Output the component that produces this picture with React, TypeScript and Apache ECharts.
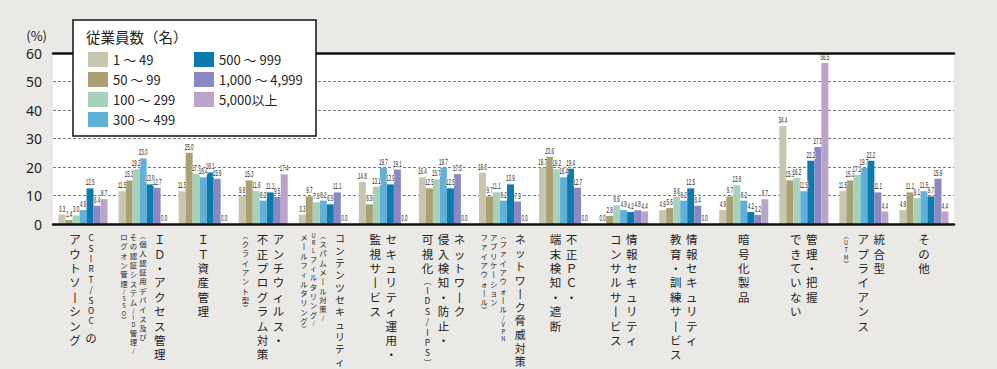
import React, { useEffect, useRef } from 'react';
import * as echarts from 'echarts';

const categories = [
  'CSIRT/SOC のアウトソーシング',
  'ID・アクセス管理',
  'IT資産管理',
  'アンチウィルス・不正プログラム対策',
  'コンテンツセキュリティ',
  'セキュリティ運用・監視サービス',
  'ネットワーク侵入検知・防止・可視化(IDS/IPS)',
  'ネットワーク脅威対策',
  '不正PC・端末検知・遮断',
  '情報セキュリティコンサルサービス',
  '情報セキュリティ教育・訓練サービス',
  '暗号化製品',
  '管理・把握できていない',
  '統合型アプライアンス(UTM)',
  'その他',
];

// label columns, right to left (main size), then sub (small size) columns
const labelMain: string[][] = [
  ['CSIRT/SOC の', 'アウトソーシング'],
  ['ＩＤ・アクセス管理'],
  ['ＩＴ資産管理'],
  ['アンチウィルス・', '不正プログラム対策'],
  ['コンテンツセキュリティ'],
  ['セキュリティ運用・', '監視サービス'],
  ['ネットワーク', '侵入検知・防止・', '可視化(IDS/IPS)'],
  ['ネットワーク脅威対策'],
  ['不正ＰＣ・', '端末検知・遮断'],
  ['情報セキュリティ', 'コンサルサービス'],
  ['情報セキュリティ', '教育・訓練サービス'],
  ['暗号化製品'],
  ['管理・把握', 'できていない'],
  ['統合型', 'アプライアンス'],
  ['その他'],
];
const labelSub: string[][] = [
  [],
  ['(個人認証用デバイス及び', 'その認証システム/ID管理/', 'ログオン管理/SSO)'],
  [],
  ['(クライアント型)'],
  ['(スパムメール対策/', 'URLフィルタリング/', 'メールフィルタリング)'],
  [],
  [],
  ['(ファイアウォール/VPN', 'アプリケーション', 'ファイアウォール)'],
  [],
  [],
  [],
  [],
  [],
  ['(UTM)'],
  [],
];

const seriesNames = ['1 ～ 49', '50 ～ 99', '100 ～ 299', '300 ～ 499', '500 ～ 999', '1,000 ～ 4,999', '5,000以上'];
const s1 = [3.3, 11.5, 11.5, 9.8, 3.3, 14.8, 16.4, 18.0, 19.7, 0.0, 4.9, 4.9, 34.4, 11.5, 4.9];
const s2 = [1.4, 15.3, 25.0, 15.3, 9.7, 6.9, 12.5, 9.7, 23.6, 2.8, 5.6, 9.7, 15.3, 15.3, 11.1];
const s3 = [3.0, 19.2, 17.7, 11.6, 7.6, 13.1, 15.7, 11.1, 19.2, 6.6, 9.6, 13.6, 16.2, 17.2, 9.1];
const s4 = [4.9, 23.0, 16.4, 8.2, 8.2, 19.7, 19.7, 8.2, 16.4, 4.9, 8.2, 8.2, 11.5, 19.7, 11.5];
const s5 = [12.5, 13.9, 18.1, 11.1, 6.9, 13.9, 12.5, 13.9, 19.4, 4.2, 12.5, 4.2, 22.2, 22.2, 9.7];
const s6 = [6.4, 12.7, 15.9, 9.5, 11.1, 19.1, 17.5, 7.9, 12.7, 4.8, 6.4, 3.2, 27.0, 11.1, 15.9];
const s7 = [8.7, 0.0, 0.0, 17.4, 0.0, 0.0, 0.0, 0.0, 0.0, 4.4, 0.0, 8.7, 56.5, 4.4, 4.4];
const seriesData = [s1, s2, s3, s4, s5, s6, s7];

const colors = ['#c8c6b1', '#a9a074', '#a8d1b9', '#60b0d8', '#0c7aad', '#8a88c0', '#bca3cb'];

const JP = "'Noto Sans CJK JP', 'Noto Sans', sans-serif";
const BAR_W = 7;

type Kind = 'full' | 'half' | 'paren' | 'space';
type Metric = { w: number; pitch: Record<Kind, number>; font: Record<Kind, number> };
const MAIN: Metric = {
  w: 13,
  pitch: { full: 14.4, half: 10.4, paren: 9.6, space: 5 },
  font: { full: 11.5, half: 8.3, paren: 7.6, space: 4 },
};
const SUB: Metric = {
  w: 8,
  pitch: { full: 9.3, half: 7.2, paren: 7, space: 3 },
  font: { full: 7.4, half: 5.7, paren: 5.5, space: 2.4 },
};
const MAXLEN = 136;
const RATIO = 1.25;

function toVertical(t: string): string[] {
  return Array.from(t).map((c) => (c === '(' ? '︵' : c === ')' ? '︶' : c === 'ー' ? '丨' : c));
}
function kind(c: string): Kind {
  if (c === ' ') return 'space';
  if (c === '︵' || c === '︶') return 'paren';
  if (c.charCodeAt(0) < 128) return 'half';
  return 'full';
}

const columns = categories.map((_, i) => [
  ...labelMain[i].map((t) => ({ t, sub: false })),
  ...labelSub[i].map((t) => ({ t, sub: true })),
]);

const colOffsets = columns.map((cols) => {
  const pos = [0];
  for (let j = 1; j < cols.length; j++) {
    const a = cols[j - 1].sub;
    const b = cols[j].sub;
    const pitch = !a && !b ? 16 : a && b ? 9.5 : 17;
    pos.push(pos[j - 1] - pitch);
  }
  const last = cols.length - 1;
  const right = pos[0] + (cols[0].sub ? SUB.w : MAIN.w) / 2;
  const left = pos[last] - (cols[last].sub ? SUB.w : MAIN.w) / 2;
  const c = (right + left) / 2;
  return pos.map((p) => p - c);
});

function richFor(k: number) {
  const rich: Record<string, any> = {};
  columns.forEach((cols, i) => {
    const col = cols[k];
    if (!col) return;
    const m = col.sub ? SUB : MAIN;
    const chars = toVertical(col.t);
    const total = chars.reduce((s, c) => s + m.pitch[kind(c)], 0);
    const sc = Math.min(1, MAXLEN / total);
    const dx = colOffsets[i][k];
    const pad = [0, dx < 0 ? -2 * dx : 0, 0, dx > 0 ? 2 * dx : 0];
    (['full', 'half', 'paren', 'space'] as const).forEach((kd) => {
      const lh = m.pitch[kd] * sc;
      rich[`${kd}${i}`] = {
        fontSize: Math.min(m.font[kd], lh / RATIO),
        lineHeight: lh,
        padding: pad,
        fontFamily: JP,
        color: '#222',
      };
    });
  });
  return rich;
}

function formatterFor(k: number) {
  return (_value: string, index: number) => {
    const col = columns[index] && columns[index][k];
    if (!col) return '';
    return toVertical(col.t)
      .map((c) => `{${kind(c)}${index}|${c}}`)
      .join('\n');
  };
}

const labelData = seriesData.flatMap((d, si) => d.map((v, ci) => [ci, v, si]));

export default function App() {
  const ref = useRef<HTMLDivElement>(null);
  useEffect(() => {
    const chart = echarts.init(ref.current!, null, { renderer: 'svg' });

    const xAxes: any[] = [0, 1, 2, 3].map((k) => ({
      type: 'category',
      data: categories,
      position: 'bottom',
      gridIndex: 0,
      z: 5,
      axisLine: { show: k === 0, onZero: false, lineStyle: { color: '#111', width: 2.5 } },
      axisTick: { show: false },
      splitLine: { show: false },
      axisLabel: {
        interval: 0,
        margin: 8,
        color: '#222',
        formatter: formatterFor(k),
        rich: richFor(k),
      },
    }));
    xAxes.push({
      type: 'category',
      data: categories,
      position: 'top',
      gridIndex: 0,
      z: 5,
      axisLine: { show: true, onZero: false, lineStyle: { color: '#111', width: 2.5 } },
      axisTick: { show: false },
      axisLabel: { show: false },
      splitLine: { show: false },
    });

    const series: any[] = seriesData.map((d, si) => ({
      name: seriesNames[si],
      type: 'bar',
      xAxisIndex: 0,
      data: d,
      barWidth: BAR_W,
      barGap: '0%',
      itemStyle: { color: colors[si] },
    }));
    series.push({
      name: 'values',
      type: 'custom',
      xAxisIndex: 0,
      yAxisIndex: 0,
      z: 4,
      silent: true,
      data: labelData,
      renderItem: (_params: any, api: any) => {
        const ci = api.value(0);
        const v = api.value(1);
        const si = api.value(2);
        const pt = api.coord([ci, v]);
        const x = pt[0] + (si - 3) * BAR_W;
        return {
          type: 'text',
          x,
          y: pt[1] - 1,
          scaleX: 0.5,
          z2: 10,
          style: {
            text: Number(v).toFixed(1),
            x: 0,
            y: 0,
            align: 'center',
            verticalAlign: 'bottom',
            fontSize: 9,
            fontFamily: "'Liberation Sans', 'Noto Sans', sans-serif",
            fill: '#222',
            stroke: '#ffffff',
            lineWidth: 1.5,
            strokeFirst: true,
          },
        };
      },
    });

    const option: any = {
      animation: false,
      backgroundColor: '#ebe9e6',
      textStyle: { fontFamily: JP },
      grid: {
        left: 53,
        top: 53,
        right: 43,
        bottom: 145,
        show: true,
        backgroundColor: '#ffffff',
        borderWidth: 0,
        containLabel: false,
        outerBoundsMode: 'none',
      },
      title: {
        text: '従業員数（名）',
        left: 86,
        top: 29,
        padding: 0,
        z: 20,
        textStyle: { fontSize: 14.5, fontWeight: 'normal', color: '#222', fontFamily: JP },
      },
      graphic: [
        {
          type: 'rect',
          z: 10,
          shape: { x: 73, y: 20, width: 243, height: 116 },
          style: { fill: '#ffffff', stroke: '#111', lineWidth: 1.5 },
        },
      ],
      legend: [
        {
          data: seriesNames.slice(0, 4),
          left: 88,
          top: 52,
          orient: 'vertical',
          padding: 0,
          itemWidth: 20,
          itemHeight: 15,
          itemGap: 5,
          icon: 'rect',
          z: 20,
          selectedMode: false,
          textStyle: { fontSize: 13, color: '#222', fontFamily: JP },
        },
        {
          data: seriesNames.slice(4),
          left: 194,
          top: 52,
          orient: 'vertical',
          padding: 0,
          itemWidth: 20,
          itemHeight: 15,
          itemGap: 5,
          icon: 'rect',
          z: 20,
          selectedMode: false,
          textStyle: { fontSize: 13, color: '#222', fontFamily: JP },
        },
      ],
      xAxis: xAxes,
      yAxis: {
        type: 'value',
        min: 0,
        max: 60,
        interval: 10,
        name: '(%)',
        nameLocation: 'end',
        nameGap: 11,
        nameTextStyle: { fontSize: 13, color: '#222', align: 'right', padding: [0, 6, 0, 0], fontFamily: JP },
        axisLine: { show: false },
        axisTick: { show: false },
        axisLabel: { fontSize: 14, color: '#222', margin: 11, fontFamily: "'Noto Sans', sans-serif" },
        splitLine: { show: true, lineStyle: { color: '#555', width: 0.8, type: [3, 2] } },
      },
      series,
    };

    chart.setOption(option);
    return () => chart.dispose();
  }, []);

  return <div ref={ref} style={{ position: 'fixed', left: 0, top: 0, width: 997, height: 369 }} />;
}
